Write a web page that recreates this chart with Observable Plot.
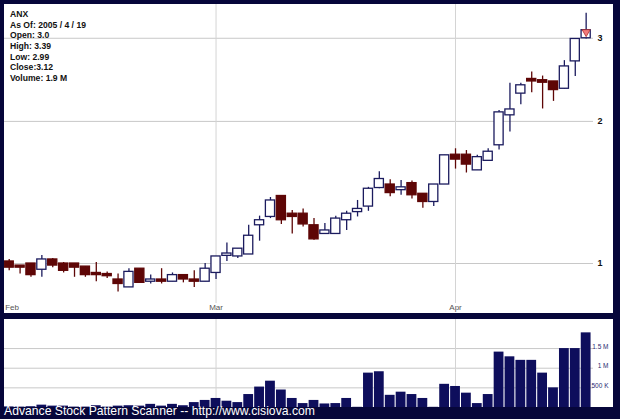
<!DOCTYPE html>
<html><head><meta charset="utf-8">
<script src="https://cdn.jsdelivr.net/npm/d3@7"></script>
<script src="https://cdn.jsdelivr.net/npm/@observablehq/plot@0.6"></script>
<style>
html,body{margin:0;padding:0;background:#06063a;}
#wrap{position:relative;width:620px;height:419px;background:#06063a;overflow:hidden;font-family:"Liberation Sans",Arial,sans-serif;}
#main{position:absolute;left:4px;top:4px;width:609px;height:309px;background:#fff;}
#vol{position:absolute;left:4px;top:319px;width:609px;height:88px;background:#fff;}
#info{position:absolute;left:10px;top:9px;font-weight:bold;font-size:8.6px;line-height:10.65px;color:#111;white-space:pre;}
#footer{position:absolute;left:4px;top:404px;color:#fff;font-size:12.2px;white-space:pre;}
svg{overflow:hidden;display:block;}
</style></head>
<body>
<div id="wrap">
  <div id="main"></div>
  <div id="vol"></div>
  <div id="info"></div>
  <div id="footer">Advance Stock Pattern Scanner -- http://www.cisiova.com</div>
</div>
<script>
const symbol = "ANX";
const asOf = "2005 / 4 / 19";
const dates = [
  "2005-02-01","2005-02-02","2005-02-03","2005-02-04","2005-02-07","2005-02-08","2005-02-09","2005-02-10","2005-02-11",
  "2005-02-14","2005-02-15","2005-02-16","2005-02-17","2005-02-18","2005-02-22","2005-02-23","2005-02-24","2005-02-25","2005-02-28",
  "2005-03-01","2005-03-02","2005-03-03","2005-03-04","2005-03-07","2005-03-08","2005-03-09","2005-03-10","2005-03-11",
  "2005-03-14","2005-03-15","2005-03-16","2005-03-17","2005-03-18","2005-03-21","2005-03-22","2005-03-23","2005-03-24",
  "2005-03-28","2005-03-29","2005-03-30","2005-03-31",
  "2005-04-01","2005-04-04","2005-04-05","2005-04-06","2005-04-07","2005-04-08","2005-04-11","2005-04-12","2005-04-13",
  "2005-04-14","2005-04-15","2005-04-18","2005-04-19"
];
const opens = [1.01,0.99,1.00,0.97,1.02,1.00,1.00,0.985,0.955,0.95,0.925,0.89,0.975,0.915,0.925,0.915,0.945,0.925,0.915,
  0.955,1.038,1.035,1.045,1.205,1.255,1.39,1.275,1.275,1.205,1.155,1.155,1.235,1.285,1.32,1.445,1.47,1.43,1.48,1.405,1.35,1.47,
  1.70,1.70,1.575,1.65,1.78,2.06,2.29,2.46,2.445,2.43,2.345,2.68,3.00];
const highs = [1.02,0.99,1.00,1.04,1.025,1.005,1.00,0.985,1.005,0.96,0.95,0.975,0.975,0.945,0.975,0.955,0.945,0.965,1.00,
  1.035,1.105,1.075,1.205,1.26,1.38,1.39,1.295,1.305,1.245,1.215,1.26,1.29,1.36,1.45,1.565,1.505,1.50,1.495,1.405,1.47,1.695,
  1.75,1.735,1.695,1.75,2.11,2.41,2.41,2.545,2.495,2.43,2.69,2.99,3.39];
const lows = [0.965,0.95,0.935,0.935,0.98,0.955,0.935,0.935,0.915,0.93,0.87,0.89,0.91,0.905,0.905,0.915,0.91,0.89,0.915,
  0.925,1.01,1.025,1.045,1.115,1.245,1.21,1.155,1.195,1.12,1.155,1.155,1.175,1.255,1.29,1.44,1.385,1.395,1.37,1.31,1.32,1.47,
  1.585,1.555,1.575,1.65,1.74,1.90,2.17,2.30,2.125,2.205,2.34,2.49,2.99];
const closes = [0.98,0.98,0.945,1.02,0.99,0.965,0.98,0.945,0.945,0.94,0.905,0.96,0.91,0.925,0.915,0.945,0.925,0.915,0.975,
  1.035,1.05,1.075,1.145,1.235,1.36,1.235,1.255,1.21,1.125,1.175,1.245,1.275,1.305,1.44,1.51,1.41,1.45,1.395,1.35,1.47,1.695,
  1.66,1.62,1.68,1.725,2.09,2.12,2.385,2.43,2.415,2.33,2.615,2.99,3.12];
const volumes = [15e3,10e3,20e3,60e3,35e3,35e3,10e3,10e3,45e3,10e3,35e3,45e3,35e3,80e3,35e3,80e3,45e3,125e3,180e3,
  230e3,160e3,125e3,330e3,520e3,670e3,445e3,230e3,100e3,180e3,90e3,100e3,230e3,5e3,875e3,910e3,310e3,390e3,330e3,230e3,5e3,590e3,
  535e3,365e3,100e3,330e3,1410e3,1290e3,1200e3,1200e3,875e3,500e3,1500e3,1500e3,1900e3];
const monthLabels = ["Feb","Mar","Apr"];
const monthStarts = ["2005-02-01","2005-03-01","2005-04-01"];
const gridMonths = ["2005-03-01","2005-04-01"];
const priceTicks = [1,2,3];
const volTicks = [500e3,1e6,1.5e6];
const volTickLabels = ["500 K","1 M","1.5 M"];
const signalDate = "2005-04-19";

const data = dates.map((d,i)=>({i, date:d, open:opens[i], high:highs[i], low:lows[i], close:closes[i], volume:volumes[i], up: closes[i] >= opens[i]}));
const ups = data.filter(d=>d.up), downs = data.filter(d=>!d.up);
const last = data[data.length-1];
const fmtVol = v => (v/1e6).toFixed(1) + " M";
document.getElementById("info").textContent =
  `${symbol}\nAs Of: ${asOf}\nOpen: ${last.open.toFixed(1)}\nHigh: ${last.high}\nLow: ${last.low}\nClose:${last.close}\nVolume: ${fmtVol(last.volume)}`;

const navy = "#1b1b5e", maroon = "#5e0606";
const xDomain = [-0.432, 53.675];
const monthIdx = monthStarts.map(d=>dates.indexOf(d));
const gridIdx = gridMonths.map(d=>dates.indexOf(d));

const main = Plot.plot({
  width:609, height:309, marginLeft:0, marginRight:20, marginTop:0, marginBottom:10,
  style:{fontFamily:"Liberation Sans, Arial, sans-serif", background:"#fff", overflow:"hidden"},
  x:{type:"linear", domain:xDomain, axis:null},
  y:{type:"log", domain:[0.8228,3.537], axis:null},
  marks:[
    Plot.ruleY(priceTicks,{stroke:"#c8c8c8", strokeWidth:1}),
    Plot.ruleX(gridIdx,{stroke:"#d4d4d4", strokeWidth:1}),
    Plot.text(priceTicks,{y:d=>d, text:d=>String(d), frameAnchor:"right", textAnchor:"start", dx:4, fontSize:9, fontWeight:"bold", fill:"#111"}),
    Plot.text(monthIdx.slice(0,1),{x:d=>d, text:(d,i)=>monthLabels[i], frameAnchor:"bottom", textAnchor:"start", dx:-4, dy:6, fontSize:8, fill:"#555"}),
    Plot.text(monthIdx.slice(1),{x:d=>d, text:(d,i)=>monthLabels[i+1], frameAnchor:"bottom", dy:6, fontSize:8, fill:"#555"}),
    Plot.ruleX(ups,{x:"i", y1:"low", y2:"high", stroke:navy, strokeWidth:1.3}),
    Plot.ruleX(downs,{x:"i", y1:"low", y2:"high", stroke:maroon, strokeWidth:1.3}),
    Plot.rect(ups,{x1:d=>d.i-0.42, x2:d=>d.i+0.42, y1:"open", y2:"close", fill:"#fff", stroke:navy, strokeWidth:1.3}),
    Plot.rect(downs,{x1:d=>d.i-0.42, x2:d=>d.i+0.42, y1:"open", y2:"close", fill:maroon, stroke:maroon, strokeWidth:1.3}),
    Plot.dot(data.filter(d=>d.date===signalDate),{x:"i", y:"close", dy:1.8, symbol:"triangle", rotate:180, r:3, fill:"#f27a7a", stroke:"#b03030", strokeWidth:0.8})
  ]
});
document.getElementById("main").appendChild(main);

const vol = Plot.plot({
  width:609, height:88, marginLeft:0, marginRight:20, marginTop:0, marginBottom:0,
  style:{fontFamily:"Liberation Sans, Arial, sans-serif", background:"#fff", overflow:"hidden"},
  x:{type:"linear", domain:xDomain, axis:null},
  y:{type:"linear", domain:[0,2.24e6], axis:null},
  marks:[
    Plot.ruleY(volTicks,{stroke:"#c8c8c8", strokeWidth:1}),
    Plot.ruleX(gridIdx,{stroke:"#d4d4d4", strokeWidth:1}),
    Plot.rect(data,{x1:d=>d.i-0.45, x2:d=>d.i+0.45, y1:0, y2:"volume", fill:"#0e0e5c"}),
    Plot.text(volTicks,{y:d=>d, text:(d,i)=>volTickLabels[i], frameAnchor:"right", textAnchor:"end", dx:15, dy:-2, fontSize:6.5, fill:"#2a2a70"})
  ]
});
document.getElementById("vol").appendChild(vol);
</script>
</body></html>
